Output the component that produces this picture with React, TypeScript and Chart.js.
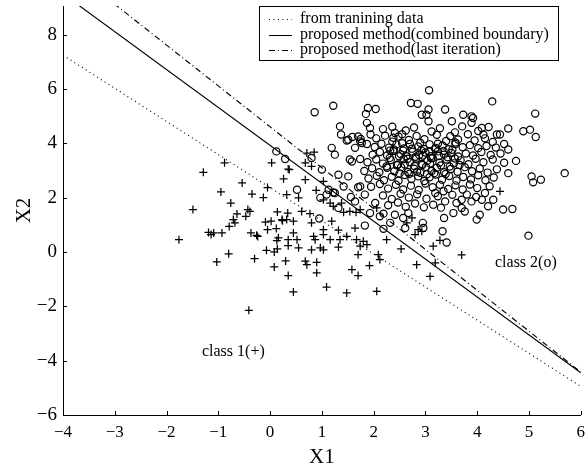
import React, { useEffect, useRef } from "react";
import { Chart, registerables } from "chart.js";

Chart.register(...registerables);

// class 1 (+) samples
const plusX = [
  -0.88, -1.29, 0.03, -0.54, -0.95, -0.35, -0.13, -0.05, 0.26, 0.32, -0.76, -1.49, -0.43, -0.39, -0.64,
  -0.71, -0.68, -0.47, -0.79, 0.14, 0.34, -0.09, 0.02, 0.24, 0.32, -0.05, 0.12, -1.19, -1.14, -1.09,
  -0.93, -1.76, -0.37, -0.26, -0.24, 0.16, 0.13, 0.35, 0.35, -0.07, 0.08, 0.14, -0.8, -1.03, -0.3,
  0.08, 0.3, 0.35, -0.41, 0.45,
  0.71, 0.85, 0.68, 0.8, 0.35, 0.68, 0.55, 0.89, 1.03, 1.16, 1.22, 1.42, 1.66, 0.61, 0.77,
  0.45, 0.8, 1.19, 1.32, 1.64, 1.03, 0.45, 0.52, 0.84, 0.87, 1.03, 1.16, 1.35, 1.48, 1.67,
  1.8, 1.87, 1.74, 0.55, 0.8, 0.97, 1.03, 1.32, 1.7, 2.09, 2.25, 2.12, 0.68, 0.71, 0.9,
  0.9, 1.58, 1.7, 1.92, 1.09, 1.48, 2.06,
  2.64, 2.8, 2.93, 3.15, 3.28, 2.53, 3.7, 2.83, 3.19, 3.09,
  1.38, 1.54, 1.74, 2.06, 2.74, 2.86, 4.44, 0.37, 0.23, 1.03
];
const plusY = [
  3.28, 2.93, 3.28, 2.54, 2.21, 2.13, 2.0, 2.37, 2.69, 2.11, 1.8, 1.56, 1.56, 1.49, 1.4,
  1.19, 1.07, 1.31, 0.94, 1.47, 1.43, 1.1, 1.13, 1.15, 1.19, 0.82, 0.86, 0.72, 0.64, 0.7,
  0.7, 0.45, 0.7, 0.61, 0.57, 0.52, 0.42, 0.45, 0.23, 0.06, 0.0, 0.11, -0.07, -0.37, -0.25,
  -0.55, -0.33, -0.87, -2.15, -1.47,
  3.64, 3.67, 3.28, 3.15, 3.05, 2.66, 1.99, 2.27, 1.92, 1.8, 1.68, 1.46, 1.46, 1.49, 1.41,
  1.13, 1.07, 1.13, 0.8, 0.88, 0.82, 0.7, 0.45, 0.57, 0.45, 0.64, 0.45, 0.45, 0.57, 0.45,
  0.39, 0.27, 0.21, 0.15, 0.08, 0.15, 0.08, 0.18, -0.1, -0.1, 0.45, -0.28, -0.34, -0.47, -0.38,
  -0.77, -0.65, -0.87, -0.5, -1.29, -1.51, -1.45,
  1.07, 0.64, 0.76, 0.21, 0.43, 0.11, -0.11, -0.47, -0.4, -0.9,
  1.8, 1.49, 1.56, 1.62, 1.25, 0.82, 2.23, 3.03, 1.19, 2.6
];

// class 2 (o) samples
const circX = [
  3.07, 0.86, 1.22, 1.89, 2.04, 1.85, 2.72, 2.85, 3.06, 2.93, 3.02, 3.06, 3.38, 3.73, 3.89,
  3.92, 3.89, 3.51, 4.29, 5.12, 4.89, 5.02, 5.13, 4.6, 4.09, 4.12, 4.38, 4.44, 5.69, 5.23,
  5.05, 5.08, 4.6, 4.6, 4.5, 4.68, 4.99, 3.33, 3.41, 4.05, 3.99, 3.36, 1.35, 1.37, 1.51,
  1.7, 1.74, 1.64, 1.94, 1.93, 1.19, 1.25, 1.58, 1.0, 1.32, 1.51, 0.8, 1.13, 1.25, 1.42,
  1.74, 1.64, 1.83, 1.93, 2.03, 2.12, 2.41, 2.57, 2.67, 2.61, 2.95, 2.96, 1.83, 4.09, 4.31,
  4.15, 4.21, 3.7, 3.89, 3.8, 3.7, 3.54, 3.76, 3.35, 3.38, 3.19,
  0.12, 0.29, 0.52, 0.95, 0.97, 1.09, 1.22, 1.32, 1.56, 1.7, 2.19, 2.32, 2.19,
  1.48, 1.59, 1.75, 1.77, 1.87, 1.87, 1.54, 1.74, 2.32, 2.41, 2.38, 2.48,
  2.18, 2.36, 2.62, 2.78, 3.12, 3.28, 3.57, 3.71, 4.02, 4.22,
  2.05, 2.22, 2.55, 2.68, 2.83, 2.98, 3.22, 3.4, 3.48, 3.63, 3.82, 3.95, 4.15, 4.3,
  2.02, 2.15, 2.3, 2.44, 2.58, 2.7, 2.86, 2.97, 3.08, 3.2, 3.33, 3.45, 3.58, 3.72, 3.86, 4.02, 4.18, 4.36, 4.52,
  1.98, 2.12, 2.26, 2.38, 2.52, 2.63, 2.75, 2.88, 3.0, 3.1, 3.24, 3.36, 3.5, 3.63, 3.78, 3.92, 4.08, 4.26, 4.45,
  1.88, 2.05, 2.18, 2.33, 2.47, 2.58, 2.7, 2.82, 2.93, 3.04, 3.14, 3.27, 3.41, 3.55, 3.68, 3.83, 3.97, 4.12, 4.3, 4.52, 4.75,
  1.82, 1.97, 2.11, 2.26, 2.4, 2.53, 2.66, 2.78, 2.9, 3.01, 3.12, 3.22, 3.36, 3.49, 3.62, 3.76, 3.9, 4.05, 4.2, 4.38,
  1.9, 2.06, 2.2, 2.35, 2.48, 2.6, 2.73, 2.86, 2.98, 3.08, 3.2, 3.32, 3.46, 3.6, 3.73, 3.88, 4.02, 4.16, 4.32,
  1.95, 2.12, 2.28, 2.43, 2.57, 2.72, 2.87, 3.0, 3.14, 3.28, 3.44, 3.58, 3.72, 3.86, 4.0, 4.24,
  2.18, 2.35, 2.52, 2.68, 2.84, 3.02, 3.24, 3.52, 3.98,
  2.28, 2.47, 2.62, 2.8, 2.97, 3.15, 3.3, 3.6,
  2.31, 2.49, 2.66, 2.81, 2.95, 3.11, 3.26, 3.43, 3.57, 2.39, 2.57, 2.74, 2.92, 3.07, 3.19, 3.35, 3.52,
  2.25, 2.45, 2.6, 2.79, 2.94, 3.09, 3.3, 3.47, 3.66, 2.5, 2.69, 2.84, 3.03, 3.17, 3.39, 2.36, 2.55, 2.9, 3.24, 3.58
];
const circY = [
  5.95, 5.14, 5.38, 5.3, 5.26, 5.08, 5.48, 5.45, 5.24, 5.05, 5.05, 4.81, 5.24, 5.05, 4.99,
  4.93, 4.75, 4.81, 5.54, 5.09, 4.44, 4.5, 4.23, 4.54, 4.56, 4.32, 4.32, 4.32, 2.9, 2.66,
  2.78, 2.56, 2.9, 3.77, 1.56, 1.58, 0.6, 0.76, 0.35, 1.37, 1.19, 1.25, 4.62, 4.32, 4.13,
  4.25, 4.07, 3.83, 4.32, 4.56, 3.83, 3.58, 3.33, 3.03, 2.84, 2.78, 3.46, 2.29, 2.17, 2.41,
  2.41, 1.86, 2.11, 1.43, 1.8, 1.31, 1.37, 1.25, 1.43, 0.88, 1.07, 0.88, 0.97, 1.92, 1.92,
  2.17, 1.68, 1.92, 1.86, 2.11, 1.62, 1.43, 1.49, 2.23, 1.86, 2.17,
  3.7, 3.42, 2.29, 1.23, 1.99, 2.11, 2.19, 1.62, 2.02, 2.38, 1.41, 1.07, 0.85,
  4.1, 4.23, 4.16, 4.01, 3.97, 4.75, 3.4, 3.42, 3.73, 4.38, 4.2, 4.25,
  4.52, 4.61, 4.47, 4.58, 4.43, 4.55, 4.4, 4.62, 4.45, 4.6,
  4.18, 4.28, 4.33, 4.12, 4.27, 4.15, 4.31, 4.08, 4.26, 4.14, 4.33, 4.1, 4.18, 4.05,
  3.86, 3.98, 3.84, 3.95, 3.81, 3.97, 3.88, 3.79, 3.96, 3.83, 3.92, 3.78, 3.97, 3.85, 3.93, 3.82, 3.9, 3.84, 3.97,
  3.58, 3.68, 3.55, 3.71, 3.6, 3.52, 3.69, 3.57, 3.66, 3.52, 3.7, 3.58, 3.64, 3.51, 3.62, 3.55, 3.68, 3.57, 3.62,
  3.3, 3.4, 3.25, 3.38, 3.22, 3.42, 3.3, 3.44, 3.24, 3.36, 3.46, 3.28, 3.4, 3.26, 3.37, 3.23, 3.43, 3.3, 3.4, 3.28, 3.35,
  2.98, 3.08, 2.93, 3.1, 2.97, 3.12, 2.94, 3.06, 2.91, 3.13, 2.98, 3.1, 2.93, 3.05, 2.95, 3.12, 2.97, 3.07, 2.92, 3.04,
  2.7, 2.8, 2.64, 2.77, 2.62, 2.83, 2.68, 2.78, 2.61, 2.75, 2.85, 2.66, 2.79, 2.63, 2.76, 2.67, 2.82, 2.64, 2.74,
  2.4, 2.5, 2.33, 2.47, 2.3, 2.44, 2.28, 2.52, 2.38, 2.47, 2.32, 2.45, 2.3, 2.48, 2.35, 2.42,
  2.08, 1.95, 2.14, 2.0, 2.12, 1.96, 2.05, 2.1, 2.02,
  1.72, 1.82, 1.66, 1.78, 1.64, 1.74, 1.63, 1.8,
  3.46, 3.52, 3.43, 3.5, 3.55, 3.45, 3.53, 3.48, 3.44, 3.77, 3.73, 3.8, 3.74, 3.69, 3.79, 3.72, 3.76,
  3.15, 3.19, 3.22, 3.16, 3.2, 3.25, 3.18, 3.14, 3.2, 2.89, 2.88, 2.95, 2.86, 2.9, 2.87, 4.06, 4.0, 4.02, 3.98, 4.03
];

// decision boundaries, sampled at the x-axis limits
const boundaryX = [-4, 6];
const trainingY = [7.24, -4.95];
const combinedY = [9.5, -4.45];
const lastIterY = [10.62, -4.42];

const legendLabels = [
  "from tranining data",
  "proposed method(combined boundary)",
  "proposed method(last iteration)",
];

const noteTexts = ["class 1(+)", "class 2(o)"];
const noteX = [-0.71, 4.94];
const noteY = [-3.67, -0.39];

const SERIF = '"Liberation Serif", "Times New Roman", serif';
const minus = (v: number | string) => String(v).replace("-", "\u2212");

const dashes = [[1, 3.5], [], [6, 3, 1, 3]];

const overlay = {
  id: "overlay",
  afterDatasetsDraw(chart: any) {
    const { ctx, chartArea, scales } = chart;
    const xs = scales.x;
    const ys = scales.y;
    ctx.save();
    ctx.strokeStyle = "#000";
    ctx.lineWidth = 1;
    // inward tick marks
    xs.ticks.forEach((t: any) => {
      const px = Math.round(xs.getPixelForValue(t.value)) + 0.5;
      ctx.beginPath();
      ctx.moveTo(px, chartArea.bottom);
      ctx.lineTo(px, chartArea.bottom - 4);
      ctx.stroke();
    });
    ys.ticks.forEach((t: any) => {
      const py = Math.round(ys.getPixelForValue(t.value)) + 0.5;
      ctx.beginPath();
      ctx.moveTo(chartArea.left, py);
      ctx.lineTo(chartArea.left + 4, py);
      ctx.stroke();
    });
    // class annotations
    ctx.fillStyle = "#000";
    ctx.font = `16px ${SERIF}`;
    ctx.textAlign = "center";
    ctx.textBaseline = "middle";
    noteTexts.forEach((txt, i) => {
      ctx.fillText(txt, xs.getPixelForValue(noteX[i]), ys.getPixelForValue(noteY[i]));
    });
    // legend box
    const bx = 259.5, by = 6.5, bw = 299, bh = 54;
    ctx.fillStyle = "#fff";
    ctx.fillRect(bx, by, bw, bh);
    ctx.strokeRect(bx, by, bw, bh);
    ctx.fillStyle = "#000";
    ctx.textAlign = "left";
    legendLabels.forEach((lab, i) => {
      const yy = 19 + i * 15.5;
      ctx.setLineDash(dashes[i]);
      ctx.beginPath();
      ctx.moveTo(269, Math.round(yy) + 0.5);
      ctx.lineTo(292, Math.round(yy) + 0.5);
      ctx.stroke();
      ctx.setLineDash([]);
      ctx.fillText(lab, 300, yy);
    });
    ctx.restore();
  },
};

export default function App() {
  const ref = useRef<HTMLCanvasElement | null>(null);
  useEffect(() => {
    document.body.style.margin = "0";
    const canvas = ref.current;
    if (!canvas) return;
    const plusPts = plusX.map((x, i) => ({ x, y: plusY[i] }));
    const circPts = circX.map((x, i) => ({ x, y: circY[i] }));
    const lineSet = (label: string, ys: number[], dash: number[]) => ({
      label,
      data: boundaryX.map((x, i) => ({ x, y: ys[i] })),
      showLine: true,
      borderColor: "#000",
      borderWidth: 1.15,
      borderDash: dash,
      pointRadius: 0,
      fill: false,
    });
    const chart = new Chart(canvas, {
      type: "scatter",
      data: {
        datasets: [
          {
            label: "class 1(+)",
            data: plusPts,
            pointStyle: "cross",
            pointRadius: 4,
            borderColor: "#000",
            borderWidth: 1.25,
          },
          {
            label: "class 2(o)",
            data: circPts,
            pointStyle: "circle",
            pointRadius: 3.6,
            borderColor: "#000",
            backgroundColor: "rgba(0,0,0,0)",
            borderWidth: 1.2,
          },
          lineSet(legendLabels[0], trainingY, dashes[0]),
          lineSet(legendLabels[1], combinedY, dashes[1]),
          lineSet(legendLabels[2], lastIterY, dashes[2]),
        ] as any,
      },
      options: {
        animation: false,
        responsive: false,
        maintainAspectRatio: false,
        layout: { padding: { top: 6, right: 4, left: 0, bottom: 0 } },
        plugins: { legend: { display: false }, tooltip: { enabled: false } },
        scales: {
          x: {
            type: "linear",
            min: -4,
            max: 6,
            ticks: {
              stepSize: 1,
              color: "#000",
              padding: 7,
              font: { family: SERIF, size: 17 },
              callback: (v: any) => minus(v),
            },
            grid: { display: false, drawTicks: false },
            border: { display: true, color: "#000", width: 1 },
            title: {
              display: true,
              text: "X1",
              color: "#000",
              font: { family: SERIF, size: 21 },
              padding: { top: 0, bottom: 0 },
            },
            afterFit: (s: any) => {
              s.height = 55;
              s.paddingLeft = 0;
              s.paddingRight = 0;
            },
          },
          y: {
            type: "linear",
            min: -6,
            max: 9.05,
            ticks: {
              stepSize: 2,
              includeBounds: false,
              color: "#000",
              padding: 6,
              font: { family: SERIF, size: 19 },
              callback: (v: any) => minus(v),
            },
            grid: { display: false, drawTicks: false },
            border: { display: true, color: "#000", width: 1 },
            title: {
              display: true,
              text: "X2",
              color: "#000",
              font: { family: SERIF, size: 21 },
              padding: { top: 12, bottom: 0 },
            },
            afterFit: (s: any) => {
              s.width = 63;
              s.paddingTop = 0;
              s.paddingBottom = 0;
            },
          },
        },
      } as any,
      plugins: [overlay],
    });
    return () => chart.destroy();
  }, []);
  return (
    <canvas
      ref={ref}
      width={586}
      height={470}
      style={{ display: "block", width: 586, height: 470 }}
    />
  );
}
